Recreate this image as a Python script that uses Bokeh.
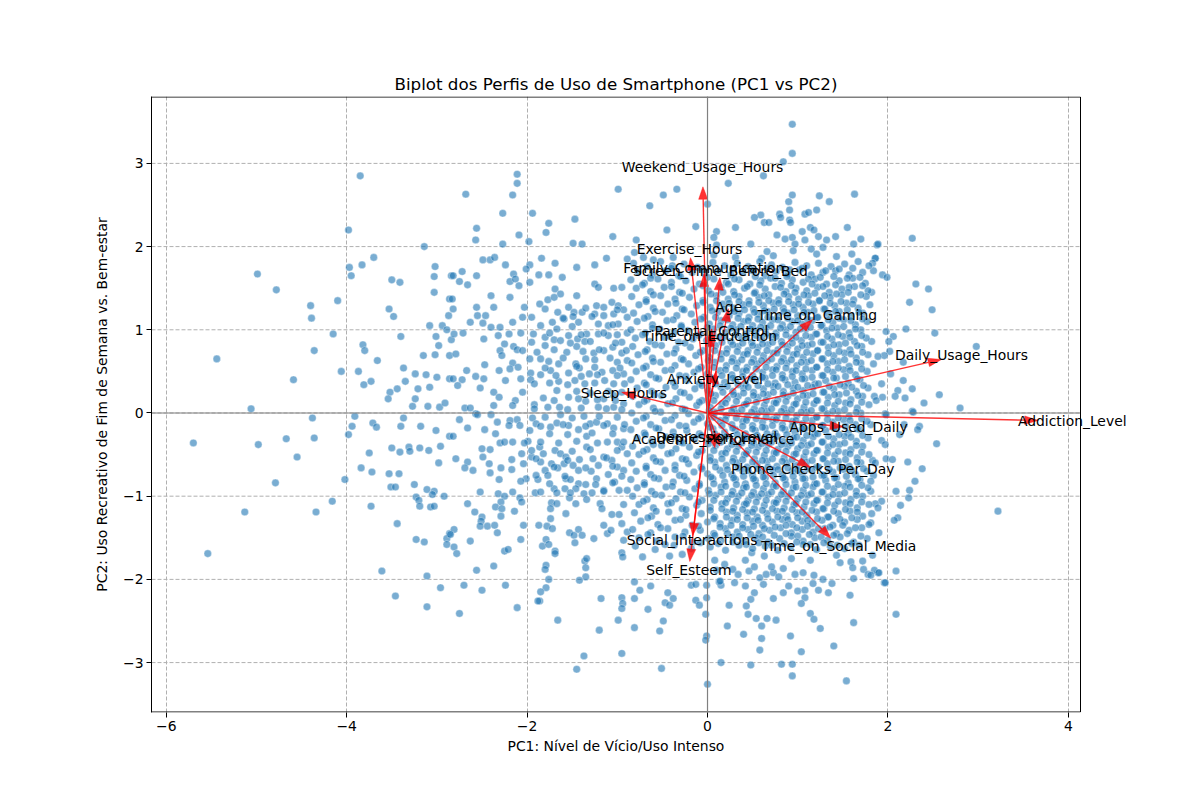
from bokeh.plotting import figure
from bokeh.models import Range1d, FixedTicker, Span, CustomJSTickFormatter, ColumnDataSource, Label, Title
from bokeh.embed import file_html
from bokeh.resources import INLINE

# ---------------- data (PC scores) ----------------
left_points = [
(-3.85,2.85),(-3.98,2.20),(-3.14,2.00),(-3.70,1.87),(-3.83,1.78),(-3.97,1.75),(-3.95,1.65),(-4.99,1.67),
(-4.78,1.48),(-3.02,1.76),(-3.03,1.64),(-3.50,1.60),(-3.41,1.57),(-3.03,1.45),(-4.40,1.29),(-4.10,1.35),
(-4.39,1.14),(-3.53,1.25),(-3.48,1.16),(-2.84,1.65),(-2.86,1.37),(-2.87,1.17),(-3.08,1.05),(-2.94,1.05),
(-2.89,1.00),(-4.15,0.95),(-3.40,0.92),(-3.01,0.92),(-2.84,0.88),(-3.82,0.82),(-3.80,0.75),(-2.98,0.81),
(-4.36,0.75),(-5.44,0.65),(-3.15,0.69),(-3.02,0.70),(-2.86,0.69),(-3.66,0.63),(-3.37,0.54),(-4.06,0.50),
(-3.87,0.50),(-3.24,0.47),(-3.12,0.46),(-3.00,0.43),(-2.86,0.41),(-4.59,0.40),(-3.81,0.34),(-3.73,0.38),
(-3.35,0.38),(-3.44,0.29),(-3.52,0.25),(-3.54,0.17),(-3.21,0.29),(-3.08,0.31),(-3.24,0.17),(-3.27,0.08),
(-3.10,0.08),(-2.97,0.07),(-2.91,0.12),(-5.06,0.05),(-4.38,-0.06),(-3.91,-0.04),(-3.37,-0.06),(-3.94,-0.16),
(-3.71,-0.12),(-3.67,-0.17),(-3.40,-0.16),(-3.18,-0.16),(-3.01,-0.21),
(-5.70,-0.36),(-4.98,-0.38),(-4.67,-0.31),(-4.36,-0.30),(-4.55,-0.53),(-3.98,-0.26),(-2.86,-0.28),(-3.75,-0.48),
(-3.50,-0.42),(-3.41,-0.47),(-3.31,-0.41),(-3.30,-0.46),(-3.19,-0.42),(-3.09,-0.45),(-2.96,-0.40),(-2.98,-0.60),
(-3.84,-0.66),(-3.72,-0.71),(-3.53,-0.73),(-3.42,-0.73),(-4.02,-0.80),(-4.79,-0.84),(-3.51,-0.89),(-3.46,-0.89),
(-3.25,-0.86),(-3.11,-0.92),(-3.03,-0.94),(-3.05,-0.98),(-2.92,-1.00),(-3.23,-1.01),(-3.20,-1.05),(-3.19,-1.12),
(-3.07,-1.13),(-3.03,-1.12),(-4.16,-1.06),(-5.13,-1.19),(-4.34,-1.19),(-3.73,-1.12),(-3.44,-1.33),(-3.23,-1.52),
(-3.14,-1.55),(-2.86,-1.45),(-2.89,-1.51),(-2.89,-1.58),(-5.54,-1.69),(-3.61,-1.90),(-3.11,-1.96),(-2.96,-2.10),
(-3.46,-2.20),(-3.11,-2.33),
]

midleft_upper = [
(-2.11,2.87),(-2.11,2.76),(-2.16,2.62),(-2.68,2.63),(-0.99,2.69),(-2.27,2.40),(-1.94,2.40),(-1.47,2.33),
(-1.76,2.28),(-1.79,2.17),(-2.56,2.22),(-2.57,2.08),(-2.09,2.14),(-1.98,2.06),(-1.05,2.12),(-2.27,2.03),
(-1.49,2.04),(-1.39,2.03),(-2.49,1.84),(-2.41,1.84),(-2.36,1.87),(-2.24,1.78),(-1.84,1.86),(-1.69,1.80),
(-1.97,1.78),(-2.01,1.73),(-1.45,1.75),(-1.25,1.78),(-1.12,1.86),(-0.89,1.85),(-2.82,1.65),(-2.72,1.70),
(-2.75,1.58),(-2.66,1.54),(-2.56,1.65),(-2.15,1.67),(-2.19,1.58),(-2.13,1.61),(-2.09,1.53),(-1.97,1.57),
(-1.87,1.66),(-1.76,1.66),(-1.61,1.63),(-1.69,1.49),(-1.63,1.43),(-1.45,1.41),(-1.25,1.55),(-1.21,1.51),
(-1.04,1.50),(-0.95,1.51),(-2.40,1.41),(-2.19,1.39),(-2.83,1.37),(-1.86,1.31),(-1.77,1.36),(-1.70,1.39),
(-2.03,1.27),(-2.37,1.27),(-2.56,1.27),(-2.82,1.25),(-1.66,1.21),(-1.54,1.27),(-1.48,1.21),(-1.23,1.29),
(-1.15,1.27),(-1.06,1.33),(-0.99,1.29),(-0.93,1.24),(-1.25,1.19),(-1.15,1.17),(-1.04,1.19),(-2.55,1.17),
(-2.46,1.17),(-2.63,1.09),(-2.49,1.08),(-2.40,1.03),(-2.30,1.03),(-2.16,1.09),(-2.05,1.15),(-1.72,1.09),
(-1.59,1.13),(-1.49,1.16),(-1.39,1.21),(-1.67,1.01),(-1.43,1.09),(-1.21,1.07),(-1.10,1.05),(-0.99,1.07),
(-0.89,1.15),(-2.81,0.95),(-2.71,0.96),(-2.48,0.89),(-2.32,0.93),(-2.07,0.96),(-1.93,0.95),(-1.80,0.91),
(-1.70,0.88),(-1.63,0.87),(-1.54,0.93),(-1.44,0.89),(-1.34,0.95),(-1.21,0.95),(-1.10,0.93),(-1.00,0.94),
(-0.89,0.96),(-2.79,0.71),(-2.25,0.83),(-2.15,0.80),(-2.11,0.76),(-2.30,0.75),(-2.28,0.69),(-1.89,0.73),
(-1.80,0.81),(-1.56,0.73),(-1.45,0.80),(-1.36,0.86),(-1.26,0.72),(-1.15,0.75),(-1.05,0.79),(-0.95,0.72),
(-1.97,0.65),(-2.16,0.60),(-1.76,0.62),(-1.65,0.59),(-1.46,0.59),(-1.35,0.65),(-1.00,0.61),(-0.89,0.63),
(-2.67,0.51),(-2.47,0.58),(-2.31,0.51),(-2.19,0.53),(-1.96,0.48),(-1.85,0.46),(-1.74,0.51),(-1.54,0.48),
(-1.42,0.54),(-1.31,0.47),(-1.17,0.49),(-1.05,0.51),(-0.93,0.47),(-2.82,0.41),(-2.72,0.40),(-2.57,0.44),
(-2.48,0.41),(-2.24,0.39),(-2.07,0.41),(-1.96,0.40),(-1.65,0.38),(-1.47,0.39),(-1.36,0.35),(-1.14,0.39),
(-1.04,0.35),(-2.77,0.33),(-2.52,0.30),(-2.37,0.25),(-2.31,0.19),(-2.13,0.15),(-1.92,0.10),(-1.82,0.18),
(-1.67,0.27),(-1.54,0.19),(-1.43,0.17),(-1.15,0.17),(-1.04,0.21),(-0.93,0.11),(-2.69,0.06),(-2.63,0.06),
(-2.37,0.09),(-2.16,0.09),(-1.77,0.07),(-1.64,0.07),(-1.21,0.07),(-1.04,0.07),(-2.57,-0.01),
]

midleft_lower = [
(-2.75,-0.08),(-2.66,-0.18),(-2.82,-0.28),(-2.55,-0.02),(-2.40,-0.02),(-2.47,-0.20),(-2.35,-0.25),(-2.33,-0.11),
(-2.19,-0.09),(-2.11,-0.08),(-2.08,-0.15),(-1.94,-0.06),(-1.90,-0.13),(-1.97,-0.21),(-1.99,-0.34),(-2.03,-0.36),
(-1.74,-0.17),(-1.67,-0.12),(-1.54,-0.15),(-1.43,-0.20),(-1.34,-0.28),(-1.30,-0.13),(-1.23,-0.11),(-1.11,-0.13),
(-1.04,-0.18),(-0.93,-0.19),(-1.37,-0.04),(-1.63,-0.02),(-2.50,-0.43),(-2.41,-0.44),(-2.30,-0.36),(-2.25,-0.35),
(-2.16,-0.35),(-2.06,-0.49),(-2.79,-0.55),(-2.66,-0.59),(-2.69,-0.66),(-2.60,-0.69),(-2.42,-0.61),(-2.41,-0.72),
(-2.49,-0.53),(-2.29,-0.66),(-2.17,-0.56),(-2.17,-0.68),(-2.31,-0.80),(-2.04,-0.61),(-1.95,-0.53),(-1.86,-0.41),
(-1.82,-0.49),(-1.85,-0.59),(-1.80,-0.69),(-1.77,-0.75),(-1.69,-0.45),(-1.63,-0.49),(-1.57,-0.53),(-1.66,-0.66),
(-1.73,-0.61),(-1.59,-0.61),(-1.55,-0.57),(-1.49,-0.63),(-1.43,-0.69),(-1.34,-0.41),(-1.27,-0.55),(-1.21,-0.63),
(-1.29,-0.70),(-1.15,-0.53),(-1.06,-0.57),(-1.00,-0.65),(-0.93,-0.69),(-0.89,-0.49),(-1.11,-0.35),(-1.00,-0.35),
(-0.95,-0.41),(-1.88,-0.80),(-2.01,-0.79),(-2.07,-0.82),(-1.57,-0.79),(-1.52,-0.80),(-1.43,-0.85),(-1.23,-0.79),
(-1.24,-0.86),(-1.03,-0.83),(-1.70,-0.91),(-1.67,-0.96),(-1.58,-0.91),(-1.46,-0.91),(-1.37,-0.97),(-1.28,-0.96),
(-1.15,-0.93),(-0.98,-0.93),(-0.89,-0.93),(-2.52,-0.95),(-2.32,-0.97),(-2.25,-1.00),(-2.16,-0.95),(-2.08,-1.02),
(-1.91,-0.96),(-2.66,-1.09),(-2.29,-1.07),(-2.35,-1.13),(-2.28,-1.15),(-2.06,-1.07),(-2.14,-1.18),(-1.73,-1.08),
(-1.74,-1.15),(-1.67,-1.09),(-1.53,-1.02),(-1.46,-1.09),(-1.34,-1.04),(-1.19,-1.09),(-1.17,-1.15),(-1.06,-1.22),
(-0.98,-1.22),(-0.93,-1.10),(-2.58,-1.19),(-2.50,-1.25),(-2.51,-1.30),(-2.52,-1.36),(-2.44,-1.36),(-2.36,-1.35),
(-2.29,-1.24),(-2.33,-1.44),(-2.04,-1.35),(-1.87,-1.35),(-1.78,-1.36),(-1.72,-1.39),(-1.74,-1.27),(-1.57,-1.21),
(-1.53,-1.44),(-1.48,-1.47),(-1.43,-1.40),(-1.39,-1.47),(-1.47,-1.56),(-1.26,-1.51),(-1.15,-1.35),(-1.11,-1.45),
(-1.07,-1.41),(-0.95,-1.33),(-0.89,-1.43),(-0.93,-1.53),(-2.81,-1.40),(-2.85,-1.46),(-2.81,-1.61),(-2.78,-1.69),
(-2.63,-1.54),(-2.07,-1.52),(-2.25,-1.66),(-2.21,-1.64),(-2.37,-1.84),(-2.56,-1.89),(-2.70,-2.07),(-2.50,-2.13),
(-2.24,-2.07),(-2.11,-2.34),(-2.75,-2.41),(-1.83,-1.60),(-1.79,-1.52),(-1.76,-1.58),(-1.69,-1.66),(-1.69,-1.69),
(-1.79,-1.83),(-1.80,-1.88),(-1.76,-2.00),(-1.79,-2.10),(-1.85,-2.15),(-1.86,-2.26),(-1.88,-2.26),(-1.66,-2.49),
(-1.36,-1.78),(-1.34,-1.75),(-1.35,-1.86),(-1.35,-1.97),(-1.42,-2.01),(-1.18,-2.23),(-1.20,-2.61),(-1.37,-2.92),
(-1.45,-3.08),(-0.95,-1.68),(-0.94,-1.73),(-0.95,-2.22),(-0.94,-2.29),(-0.95,-2.35),(-0.99,-2.49),(-0.95,-2.89),
]

midleft_extra = [
(-1.80,1.25),(-1.35,1.26),(-1.00,1.24),(-1.95,1.15),(-1.60,1.14),(-1.28,1.16),(-1.85,1.05),(-1.50,1.04),(-1.05,1.06),
(-2.20,0.95),(-1.75,0.96),(-1.40,0.94),(-1.15,0.96),(-0.95,0.85),(-1.95,0.85),(-1.52,0.84),(-1.30,0.86),(-1.02,0.84),
(-2.05,0.75),(-1.70,0.76),(-1.38,0.74),(-1.20,0.76),(-0.90,0.75),(-1.85,0.65),(-1.60,0.66),(-1.25,0.64),(-1.08,0.66),
(-2.10,0.55),(-1.80,0.54),(-1.45,0.56),(-1.25,0.55),(-0.97,0.54),(-1.68,0.45),(-1.40,0.44),(-1.22,0.46),(-1.00,0.45),
(-1.92,0.35),(-1.75,0.36),(-1.55,0.34),(-1.25,0.36),(-0.92,0.35),(-2.05,0.25),(-1.45,0.26),(-1.30,0.24),(-1.10,0.26),
(-0.95,0.25),(-1.70,0.15),(-1.35,0.14),(-1.22,0.16),(-1.02,0.15),(-1.92,0.05),(-1.55,0.04),(-1.40,0.06),(-1.12,0.05),
(-0.95,0.04),(-1.80,-0.05),(-1.50,-0.06),(-1.20,-0.04),(-1.00,-0.05),(-2.20,-0.15),(-1.85,-0.16),(-1.60,-0.14),
(-1.35,-0.16),(-1.15,-0.15),(-0.92,-0.14),(-1.75,-0.25),(-1.55,-0.26),(-1.28,-0.24),(-1.05,-0.25),(-1.85,-0.35),
(-1.65,-0.36),(-1.45,-0.34),(-1.22,-0.36),(-0.93,-0.35),(-1.95,-0.45),(-1.50,-0.46),(-1.30,-0.44),(-1.00,-0.45),
(-1.90,-0.55),(-1.42,-0.56),(-1.12,-0.54),(-1.70,-0.65),(-1.35,-0.66),(-1.05,-0.64),(-1.90,-0.75),(-1.58,-0.76),
(-1.10,-0.74),(-0.95,-0.76),(-1.75,-0.85),(-1.35,-0.86),(-1.05,-0.84),(-1.85,-0.95),(-1.52,-0.96),(-1.15,-0.94),
]

top_points = [
(0.94,3.47),(0.94,3.12),(0.84,3.02),(0.62,2.85),(0.23,2.76),(-0.34,2.69),(-0.49,2.62),(-0.64,2.49),
(0.00,2.51),(0.94,2.62),(1.24,2.61),(1.63,2.63),(1.35,2.54),(0.90,2.54),(0.91,2.44),(0.80,2.39),
(0.81,2.35),(0.91,2.32),(0.92,2.29),(0.59,2.38),(0.52,2.35),(0.63,2.29),(0.68,2.29),(1.08,2.39),
(1.12,2.41),(1.21,2.44),(-0.45,2.20),(-0.13,2.24),(0.10,2.18),(0.31,2.23),(0.07,2.11),(-0.79,2.08),
(1.05,2.18),(1.14,2.23),(1.18,2.20),(1.55,2.23),(0.77,2.14),(0.86,2.09),(0.94,2.11),(1.23,2.12),
(1.32,2.08),(1.42,2.12),(1.70,2.09),(0.48,2.03),(1.08,2.08),(0.97,2.03),(1.62,2.03),(1.88,2.02),
(0.10,2.02),(-0.81,1.93),(-0.71,1.87),(-0.60,1.84),(-0.38,1.87),(0.07,1.90),(0.31,1.87),(0.66,1.94),
(0.73,1.89),(0.95,1.95),(1.15,1.97),(1.21,1.91),(1.28,1.99),(1.43,1.88),(1.60,1.91),(1.86,1.86),
(0.60,1.86),
]

bottom_points = [
(-0.81,-2.03),(-0.75,-2.13),(-0.63,-2.08),(-0.81,-2.23),(-0.66,-2.36),(-0.44,-2.16),(-0.47,-2.28),(-0.42,-2.31),
(-0.38,-2.23),(-0.49,-2.50),(-0.53,-2.62),(-0.81,-2.58),(-0.51,-3.07),(-0.18,-2.07),(-0.13,-2.06),(-0.01,-2.07),
(-0.13,-2.25),(-0.09,-2.31),(-0.01,-2.22),(-0.02,-2.42),(-0.01,-2.68),(-0.02,-2.73),(0.00,-3.26),(0.15,-2.07),
(0.13,-2.03),(0.30,-2.04),(0.24,-2.31),(0.22,-2.56),(0.15,-3.00),(0.42,-2.08),(0.52,-2.16),(0.48,-2.24),
(0.43,-2.32),(0.45,-2.42),(0.54,-2.47),(0.60,-2.56),(0.66,-2.47),(0.76,-2.49),(0.40,-2.66),(0.60,-2.71),
(0.58,-2.85),(0.48,-3.03),(0.73,-2.23),(0.62,-2.06),(0.84,-2.16),(0.90,-2.08),(1.00,-2.14),(1.08,-2.13),
(1.08,-2.22),(1.04,-2.29),(1.14,-2.41),(1.18,-2.48),(1.25,-2.59),(0.92,-2.68),(1.04,-2.87),(0.82,-3.02),
(0.94,-3.02),(0.94,-3.16),(1.23,-2.13),(1.34,-2.16),(1.38,-2.05),(1.17,-2.05),(1.58,-2.19),(1.62,-2.52),
(1.40,-2.80),(1.54,-3.22),(1.62,-1.99),(1.96,-2.04),(-0.72,-1.73),(-0.42,-1.72),(-0.28,-1.70),(0.08,-1.77),
(0.19,-1.82),(0.28,-1.88),(0.34,-1.94),(0.46,-1.90),(0.52,-1.85),(0.58,-1.98),(0.65,-1.94),(0.73,-1.92),
(0.79,-1.97),(0.84,-1.87),(0.97,-1.94),(1.06,-1.92),(1.18,-1.95),(1.28,-2.00),(1.47,-1.80),(1.59,-1.79),
(1.61,-1.86),(1.73,-1.88),(1.78,-1.94),(1.89,-1.92),(1.72,-1.78),(1.43,-1.71),(1.14,-1.77),(0.93,-1.75),
(0.42,-1.77),(0.49,-1.68),(0.63,-1.72),(0.71,-1.85),(0.10,-1.89),(0.14,-2.02),
]

right_points = [
(2.27,2.10),(1.89,2.03),(1.86,1.86),(1.83,1.80),(1.84,1.71),(1.94,1.66),(1.99,1.63),(2.31,1.55),
(2.45,1.49),(2.24,1.33),(2.49,1.24),(1.82,1.45),(2.20,1.01),(2.52,0.96),(1.98,0.98),(2.06,0.92),
(2.01,0.86),(1.82,0.86),(2.98,0.80),(2.02,0.74),(1.96,0.69),(1.89,0.68),(2.17,0.61),(1.84,0.59),
(2.03,0.47),(1.93,0.35),(2.17,0.39),(2.27,0.29),(2.11,0.27),(2.08,0.20),(2.19,0.18),(1.94,0.19),
(1.85,0.20),(1.87,0.15),(2.57,0.22),(2.40,0.12),(2.80,0.06),(2.27,0.02),(1.97,-0.01),
(1.98,-0.02),(2.28,0.01),(1.81,-0.14),(2.18,-0.14),(2.35,-0.16),(2.33,-0.20),(2.13,-0.26),(1.93,-0.33),
(1.97,-0.38),(2.54,-0.37),(1.98,-0.55),(2.05,-0.56),(1.83,-0.57),(1.86,-0.60),(2.22,-0.59),(2.38,-0.67),
(1.84,-0.75),(1.81,-0.82),(2.30,-0.82),(2.24,-0.93),(2.09,-0.94),(1.81,-0.94),(2.23,-1.02),(1.93,-1.06),
(1.86,-1.09),(1.89,-1.14),(2.14,-1.11),(1.82,-1.21),(3.22,-1.18),(2.11,-1.26),(2.07,-1.29),(1.90,-1.44),
(1.81,-1.32),(1.83,-1.71),(1.85,-1.89),(1.90,-1.92),(2.09,-1.90),(1.81,-1.95),(1.97,-2.04),(2.09,-2.42),
]

core_upper = [
(-0.82,1.80),(-0.67,1.76),(-0.52,1.82),(-0.39,1.77),(-0.26,1.79),(-0.11,1.75),(0.06,1.81),(0.19,1.77),(0.33,1.80),(0.45,1.76),(0.58,1.82),(0.71,1.78),(0.83,1.75),(0.97,1.81),(1.10,1.77),(1.23,1.80),(1.37,1.76),(1.52,1.79),(1.67,1.82),(1.79,1.77),
(-0.77,1.70),(-0.61,1.66),(-0.46,1.71),(-0.32,1.65),(-0.17,1.69),(-0.03,1.67),(0.12,1.71),(0.26,1.66),(0.39,1.69),(0.51,1.72),(0.64,1.65),(0.76,1.70),(0.89,1.67),(1.02,1.72),(1.15,1.66),(1.28,1.69),(1.42,1.71),(1.57,1.66),(1.72,1.69),
(-0.85,1.60),(-0.70,1.56),(-0.55,1.61),(-0.40,1.57),(-0.24,1.59),(-0.09,1.55),(0.07,1.61),(0.21,1.57),(0.35,1.60),(0.47,1.55),(0.59,1.59),(0.70,1.62),(0.82,1.56),(0.94,1.60),(1.06,1.57),(1.19,1.61),(1.32,1.55),(1.46,1.59),(1.61,1.62),(1.75,1.56),
(-0.79,1.50),(-0.63,1.46),(-0.48,1.51),(-0.31,1.45),(-0.15,1.49),(0.01,1.47),(0.15,1.51),(0.29,1.46),(0.41,1.50),(0.53,1.45),(0.64,1.49),(0.75,1.52),(0.87,1.46),(0.98,1.50),(1.10,1.47),(1.22,1.51),(1.35,1.45),(1.49,1.49),(1.63,1.52),(1.78,1.47),
(-0.84,1.40),(-0.68,1.36),(-0.52,1.41),(-0.36,1.37),(-0.20,1.39),(-0.05,1.35),(0.10,1.41),(0.23,1.37),(0.35,1.40),(0.46,1.35),(0.57,1.39),(0.68,1.42),(0.79,1.36),(0.90,1.40),(1.01,1.37),(1.12,1.41),(1.24,1.35),(1.36,1.39),(1.49,1.42),(1.62,1.36),(1.76,1.40),
(-0.76,1.30),(-0.60,1.26),(-0.44,1.31),(-0.28,1.25),(-0.12,1.29),(0.03,1.27),(0.17,1.31),(0.29,1.26),(0.40,1.30),(0.51,1.25),(0.62,1.29),(0.73,1.32),(0.84,1.26),(0.95,1.30),(1.06,1.27),(1.17,1.31),(1.29,1.25),(1.41,1.29),(1.54,1.32),(1.67,1.26),(1.80,1.30),
(-0.82,1.20),(-0.66,1.16),(-0.50,1.21),(-0.34,1.17),(-0.18,1.19),(-0.04,1.15),(0.11,1.21),(0.24,1.17),(0.35,1.20),(0.46,1.15),(0.56,1.19),(0.67,1.22),(0.78,1.16),(0.89,1.20),(1.00,1.17),(1.11,1.21),(1.22,1.15),(1.34,1.19),(1.46,1.22),(1.59,1.16),(1.72,1.20),
(-0.78,1.10),(-0.61,1.06),(-0.45,1.11),(-0.29,1.05),(-0.14,1.09),(0.02,1.07),(0.15,1.11),(0.28,1.06),(0.40,1.10),(0.50,1.05),(0.61,1.09),(0.72,1.12),(0.83,1.06),(0.94,1.10),(1.05,1.07),(1.16,1.11),(1.27,1.05),(1.39,1.09),(1.51,1.12),(1.64,1.06),(1.77,1.10),
(-0.85,1.00),(-0.69,0.96),(-0.53,1.01),(-0.37,0.97),(-0.22,0.99),(-0.08,0.95),(0.07,1.01),(0.20,0.97),(0.32,1.00),(0.43,0.95),(0.54,0.99),(0.65,1.02),(0.76,0.96),(0.87,1.00),(0.98,0.97),(1.09,1.01),(1.20,0.95),(1.32,0.99),(1.44,1.02),(1.57,0.96),(1.70,1.00),
(-0.80,0.90),(-0.64,0.86),(-0.48,0.91),(-0.32,0.85),(-0.16,0.89),(-0.01,0.87),(0.13,0.91),(0.26,0.86),(0.38,0.90),(0.49,0.85),(0.60,0.89),(0.71,0.92),(0.82,0.86),(0.93,0.90),(1.04,0.87),(1.15,0.91),(1.26,0.85),(1.38,0.89),(1.50,0.92),(1.63,0.86),(1.76,0.90),
(-0.83,0.80),(-0.67,0.76),(-0.51,0.81),(-0.35,0.77),(-0.19,0.79),(-0.05,0.75),(0.09,0.81),(0.22,0.77),(0.34,0.80),(0.45,0.75),(0.56,0.79),(0.67,0.82),(0.78,0.76),(0.89,0.80),(1.00,0.77),(1.11,0.81),(1.22,0.75),(1.34,0.79),(1.46,0.82),(1.58,0.76),(1.71,0.80),
(-0.77,0.70),(-0.61,0.66),(-0.45,0.71),(-0.29,0.65),(-0.13,0.69),(0.02,0.67),(0.15,0.71),(0.28,0.66),(0.40,0.70),(0.51,0.65),(0.62,0.69),(0.73,0.72),(0.84,0.66),(0.95,0.70),(1.06,0.67),(1.17,0.71),(1.28,0.65),(1.40,0.69),(1.52,0.72),(1.65,0.66),(1.78,0.70),
(-0.84,0.60),(-0.68,0.56),(-0.52,0.61),(-0.36,0.57),(-0.21,0.59),(-0.07,0.55),(0.08,0.61),(0.21,0.57),(0.33,0.60),(0.44,0.55),(0.55,0.59),(0.66,0.62),(0.77,0.56),(0.88,0.60),(0.99,0.57),(1.10,0.61),(1.21,0.55),(1.33,0.59),(1.45,0.62),(1.57,0.56),(1.70,0.60),
(-0.79,0.50),(-0.63,0.46),(-0.47,0.51),(-0.31,0.45),(-0.15,0.49),(0.00,0.47),(0.14,0.51),(0.27,0.46),(0.39,0.50),(0.50,0.45),(0.61,0.49),(0.72,0.52),(0.83,0.46),(0.94,0.50),(1.05,0.47),(1.16,0.51),(1.27,0.45),(1.39,0.49),(1.51,0.52),(1.64,0.46),(1.77,0.50),
(-0.85,0.40),(-0.70,0.36),(-0.54,0.41),(-0.38,0.37),(-0.23,0.39),(-0.09,0.35),(0.06,0.41),(0.19,0.37),(0.31,0.40),(0.42,0.35),(0.53,0.39),(0.64,0.42),(0.75,0.36),(0.86,0.40),(0.97,0.37),(1.08,0.41),(1.19,0.35),(1.31,0.39),(1.43,0.42),(1.56,0.36),(1.69,0.40),
(-0.78,0.30),(-0.62,0.26),(-0.46,0.31),(-0.30,0.25),(-0.14,0.29),(0.01,0.27),(0.15,0.31),(0.28,0.26),(0.40,0.30),(0.51,0.25),(0.62,0.29),(0.73,0.32),(0.84,0.26),(0.95,0.30),(1.06,0.27),(1.17,0.31),(1.28,0.25),(1.40,0.29),(1.52,0.32),(1.65,0.26),(1.78,0.30),
(-0.83,0.20),(-0.67,0.16),(-0.51,0.21),(-0.35,0.17),(-0.20,0.19),(-0.06,0.15),(0.09,0.21),(0.22,0.17),(0.34,0.20),(0.45,0.15),(0.56,0.19),(0.67,0.22),(0.78,0.16),(0.89,0.20),(1.00,0.17),(1.11,0.21),(1.22,0.15),(1.34,0.19),(1.46,0.22),(1.59,0.16),(1.72,0.20),
(-0.76,0.10),(-0.60,0.06),(-0.44,0.11),(-0.28,0.05),(-0.12,0.09),(0.03,0.07),(0.16,0.11),(0.29,0.06),(0.41,0.10),(0.52,0.05),(0.63,0.09),(0.74,0.12),(0.85,0.06),(0.96,0.10),(1.07,0.07),(1.18,0.11),(1.29,0.05),(1.41,0.09),(1.53,0.12),(1.66,0.06),(1.79,0.10),
]

core_lower = [
(-0.84,0.00),(-0.68,-0.04),(-0.52,0.01),(-0.36,-0.03),(-0.21,-0.01),(-0.07,-0.05),(0.08,0.01),(0.21,-0.03),(0.33,0.00),(0.44,-0.05),(0.55,-0.01),(0.66,0.02),(0.77,-0.04),(0.88,0.00),(0.99,-0.03),(1.10,0.01),(1.21,-0.05),(1.33,-0.01),(1.45,0.02),(1.57,-0.04),(1.70,0.00),
(-0.79,-0.10),(-0.63,-0.14),(-0.47,-0.09),(-0.31,-0.15),(-0.15,-0.11),(0.00,-0.13),(0.14,-0.09),(0.27,-0.14),(0.39,-0.10),(0.50,-0.15),(0.61,-0.11),(0.72,-0.08),(0.83,-0.14),(0.94,-0.10),(1.05,-0.13),(1.16,-0.09),(1.27,-0.15),(1.39,-0.11),(1.51,-0.08),(1.64,-0.14),(1.77,-0.10),
(-0.85,-0.20),(-0.70,-0.24),(-0.54,-0.19),(-0.38,-0.23),(-0.23,-0.21),(-0.09,-0.25),(0.06,-0.19),(0.19,-0.23),(0.31,-0.20),(0.42,-0.25),(0.53,-0.21),(0.64,-0.18),(0.75,-0.24),(0.86,-0.20),(0.97,-0.23),(1.08,-0.19),(1.19,-0.25),(1.31,-0.21),(1.43,-0.18),(1.56,-0.24),(1.69,-0.20),
(-0.78,-0.30),(-0.62,-0.34),(-0.46,-0.29),(-0.30,-0.35),(-0.14,-0.31),(0.01,-0.33),(0.15,-0.29),(0.28,-0.34),(0.40,-0.30),(0.51,-0.35),(0.62,-0.31),(0.73,-0.28),(0.84,-0.34),(0.95,-0.30),(1.06,-0.33),(1.17,-0.29),(1.28,-0.35),(1.40,-0.31),(1.52,-0.28),(1.65,-0.34),(1.78,-0.30),
(-0.83,-0.40),(-0.67,-0.44),(-0.51,-0.39),(-0.35,-0.43),(-0.20,-0.41),(-0.06,-0.45),(0.09,-0.39),(0.22,-0.43),(0.34,-0.40),(0.45,-0.45),(0.56,-0.41),(0.67,-0.38),(0.78,-0.44),(0.89,-0.40),(1.00,-0.43),(1.11,-0.39),(1.22,-0.45),(1.34,-0.41),(1.46,-0.38),(1.59,-0.44),(1.72,-0.40),
(-0.76,-0.50),(-0.60,-0.54),(-0.44,-0.49),(-0.28,-0.55),(-0.12,-0.51),(0.03,-0.53),(0.16,-0.49),(0.29,-0.54),(0.41,-0.50),(0.52,-0.55),(0.63,-0.51),(0.74,-0.48),(0.85,-0.54),(0.96,-0.50),(1.07,-0.53),(1.18,-0.49),(1.29,-0.55),(1.41,-0.51),(1.53,-0.48),(1.66,-0.54),(1.79,-0.50),
(-0.84,-0.60),(-0.68,-0.64),(-0.52,-0.59),(-0.36,-0.63),(-0.21,-0.61),(-0.07,-0.65),(0.08,-0.59),(0.21,-0.63),(0.33,-0.60),(0.44,-0.65),(0.55,-0.61),(0.66,-0.58),(0.77,-0.64),(0.88,-0.60),(0.99,-0.63),(1.10,-0.59),(1.21,-0.65),(1.33,-0.61),(1.45,-0.58),(1.57,-0.64),(1.70,-0.60),
(-0.79,-0.70),(-0.63,-0.74),(-0.47,-0.69),(-0.31,-0.75),(-0.15,-0.71),(0.00,-0.73),(0.14,-0.69),(0.27,-0.74),(0.39,-0.70),(0.50,-0.75),(0.61,-0.71),(0.72,-0.68),(0.83,-0.74),(0.94,-0.70),(1.05,-0.73),(1.16,-0.69),(1.27,-0.75),(1.39,-0.71),(1.51,-0.68),(1.64,-0.74),(1.77,-0.70),
(-0.85,-0.80),(-0.70,-0.84),(-0.54,-0.79),(-0.38,-0.83),(-0.23,-0.81),(-0.09,-0.85),(0.06,-0.79),(0.19,-0.83),(0.31,-0.80),(0.42,-0.85),(0.53,-0.81),(0.64,-0.78),(0.75,-0.84),(0.86,-0.80),(0.97,-0.83),(1.08,-0.79),(1.19,-0.85),(1.31,-0.81),(1.43,-0.78),(1.56,-0.84),(1.69,-0.80),
(-0.78,-0.90),(-0.62,-0.94),(-0.46,-0.89),(-0.30,-0.95),(-0.14,-0.91),(0.01,-0.93),(0.15,-0.89),(0.28,-0.94),(0.40,-0.90),(0.51,-0.95),(0.62,-0.91),(0.73,-0.88),(0.84,-0.94),(0.95,-0.90),(1.06,-0.93),(1.17,-0.89),(1.28,-0.95),(1.40,-0.91),(1.52,-0.88),(1.65,-0.94),(1.78,-0.90),
(-0.83,-1.00),(-0.67,-1.04),(-0.51,-0.99),(-0.35,-1.03),(-0.20,-1.01),(-0.06,-1.05),(0.09,-0.99),(0.22,-1.03),(0.34,-1.00),(0.45,-1.05),(0.56,-1.01),(0.67,-0.98),(0.78,-1.04),(0.89,-1.00),(1.00,-1.03),(1.11,-0.99),(1.22,-1.05),(1.34,-1.01),(1.46,-0.98),(1.59,-1.04),(1.72,-1.00),
(-0.76,-1.10),(-0.60,-1.14),(-0.44,-1.09),(-0.28,-1.15),(-0.12,-1.11),(0.03,-1.13),(0.16,-1.09),(0.29,-1.14),(0.41,-1.10),(0.52,-1.15),(0.63,-1.11),(0.74,-1.08),(0.85,-1.14),(0.96,-1.10),(1.07,-1.13),(1.18,-1.09),(1.29,-1.15),(1.41,-1.11),(1.53,-1.08),(1.66,-1.14),(1.79,-1.10),
(-0.81,-1.20),(-0.62,-1.24),(-0.43,-1.19),(-0.24,-1.23),(-0.07,-1.21),(0.08,-1.25),(0.21,-1.19),(0.33,-1.23),(0.44,-1.20),(0.55,-1.25),(0.66,-1.21),(0.77,-1.18),(0.88,-1.24),(0.99,-1.20),(1.10,-1.23),(1.21,-1.19),(1.33,-1.25),(1.45,-1.21),(1.58,-1.18),(1.72,-1.24),
(-0.74,-1.30),(-0.55,-1.34),(-0.36,-1.29),(-0.17,-1.35),(0.00,-1.31),(0.14,-1.33),(0.27,-1.29),(0.39,-1.34),(0.50,-1.30),(0.61,-1.35),(0.72,-1.31),(0.83,-1.28),(0.94,-1.34),(1.05,-1.30),(1.16,-1.33),(1.27,-1.29),(1.39,-1.35),(1.52,-1.31),(1.66,-1.28),(1.79,-1.34),
(-0.83,-1.40),(-0.63,-1.44),(-0.44,-1.39),(-0.25,-1.43),(-0.08,-1.41),(0.07,-1.45),(0.20,-1.39),(0.33,-1.43),(0.45,-1.40),(0.57,-1.45),(0.69,-1.41),(0.81,-1.38),(0.93,-1.44),(1.05,-1.40),(1.17,-1.43),(1.30,-1.39),(1.43,-1.45),(1.57,-1.41),(1.71,-1.38),
(-0.76,-1.50),(-0.56,-1.54),(-0.36,-1.49),(-0.16,-1.55),(0.01,-1.51),(0.15,-1.53),(0.28,-1.49),(0.41,-1.54),(0.54,-1.50),(0.67,-1.55),(0.80,-1.51),(0.93,-1.48),(1.06,-1.54),(1.19,-1.50),(1.33,-1.53),(1.47,-1.49),(1.62,-1.55),(1.77,-1.51),
(-0.80,-1.60),(-0.58,-1.64),(-0.37,-1.59),(-0.18,-1.63),(0.03,-1.61),(0.20,-1.65),(0.35,-1.59),(0.50,-1.63),(0.64,-1.60),(0.78,-1.65),(0.92,-1.61),(1.06,-1.58),(1.21,-1.64),(1.36,-1.60),(1.52,-1.63),(1.68,-1.59),
]

core_fill_upper = [
(-0.40,1.74),(-0.05,1.72),(0.28,1.73),(0.50,1.71),(0.66,1.74),(0.91,1.72),(1.05,1.74),(1.31,1.71),(1.46,1.73),(1.61,1.74),
(-0.63,1.62),(-0.30,1.64),(0.00,1.63),(0.30,1.61),(0.53,1.64),(0.75,1.62),(0.88,1.64),(1.12,1.61),(1.25,1.63),(1.40,1.64),(1.55,1.62),(1.69,1.63),
(-0.72,1.54),(-0.40,1.52),(-0.05,1.53),(0.23,1.55),(0.44,1.52),(0.58,1.54),(0.81,1.51),(0.93,1.53),(1.16,1.55),(1.28,1.52),(1.42,1.54),(1.57,1.51),(1.72,1.53),
(-0.60,1.42),(-0.28,1.44),(0.04,1.43),(0.17,1.45),(0.30,1.42),(0.52,1.44),(0.63,1.41),(0.85,1.43),(0.97,1.45),(1.07,1.42),(1.19,1.44),(1.30,1.41),(1.43,1.43),(1.56,1.45),(1.70,1.42),
(-0.68,1.34),(-0.35,1.32),(-0.05,1.33),(0.10,1.35),(0.24,1.32),(0.35,1.34),(0.46,1.31),(0.57,1.33),(0.68,1.35),(0.79,1.32),(0.90,1.34),(1.01,1.31),(1.12,1.33),(1.24,1.35),(1.36,1.32),(1.48,1.34),(1.61,1.31),
(-0.58,1.22),(-0.26,1.24),(0.05,1.23),(0.18,1.25),(0.30,1.22),(0.41,1.24),(0.52,1.21),(0.63,1.23),(0.74,1.25),(0.85,1.22),(0.96,1.24),(1.07,1.21),(1.18,1.23),(1.30,1.25),(1.42,1.22),(1.55,1.24),(1.68,1.21),
(-0.70,1.14),(-0.38,1.12),(-0.07,1.13),(0.09,1.15),(0.22,1.12),(0.34,1.14),(0.45,1.11),(0.56,1.13),(0.67,1.15),(0.78,1.12),(0.89,1.14),(1.00,1.11),(1.11,1.13),(1.22,1.15),(1.34,1.12),(1.46,1.14),(1.59,1.11),(1.72,1.13),
(-0.61,1.02),(-0.29,1.04),(0.00,1.03),(0.14,1.05),(0.26,1.02),(0.37,1.04),(0.48,1.01),(0.59,1.03),(0.70,1.05),(0.81,1.02),(0.92,1.04),(1.03,1.01),(1.14,1.03),(1.26,1.05),(1.38,1.02),(1.51,1.04),(1.64,1.01),
(-0.72,0.94),(-0.42,0.92),(-0.10,0.93),(0.06,0.95),(0.19,0.92),(0.31,0.94),(0.43,0.91),(0.54,0.93),(0.65,0.95),(0.76,0.92),(0.87,0.94),(0.98,0.91),(1.09,0.93),(1.21,0.95),(1.33,0.92),(1.45,0.94),(1.58,0.91),(1.71,0.93),
(-0.58,0.82),(-0.25,0.84),(0.03,0.83),(0.16,0.85),(0.28,0.82),(0.39,0.84),(0.50,0.81),(0.61,0.83),(0.72,0.85),(0.83,0.82),(0.94,0.84),(1.05,0.81),(1.16,0.83),(1.28,0.85),(1.40,0.82),(1.53,0.84),(1.66,0.81),
(-0.69,0.74),(-0.37,0.72),(-0.08,0.73),(0.08,0.75),(0.21,0.72),(0.33,0.74),(0.44,0.71),(0.55,0.73),(0.66,0.75),(0.77,0.72),(0.88,0.74),(0.99,0.71),(1.10,0.73),(1.22,0.75),(1.34,0.72),(1.46,0.74),(1.59,0.71),(1.72,0.73),
(-0.60,0.62),(-0.27,0.64),(0.01,0.63),(0.15,0.65),(0.27,0.62),(0.38,0.64),(0.49,0.61),(0.60,0.63),(0.71,0.65),(0.82,0.62),(0.93,0.64),(1.04,0.61),(1.15,0.63),(1.27,0.65),(1.39,0.62),(1.52,0.64),(1.65,0.61),
(-0.71,0.54),(-0.40,0.52),(-0.10,0.53),(0.07,0.55),(0.20,0.52),(0.32,0.54),(0.43,0.51),(0.54,0.53),(0.65,0.55),(0.76,0.52),(0.87,0.54),(0.98,0.51),(1.09,0.53),(1.21,0.55),(1.33,0.52),(1.45,0.54),(1.58,0.51),(1.71,0.53),
(-0.57,0.42),(-0.24,0.44),(0.03,0.43),(0.16,0.45),(0.28,0.42),(0.39,0.44),(0.50,0.41),(0.61,0.43),(0.72,0.45),(0.83,0.42),(0.94,0.44),(1.05,0.41),(1.16,0.43),(1.28,0.45),(1.40,0.42),(1.53,0.44),(1.66,0.41),
(-0.68,0.34),(-0.36,0.32),(-0.06,0.33),(0.09,0.35),(0.22,0.32),(0.34,0.34),(0.45,0.31),(0.56,0.33),(0.67,0.35),(0.78,0.32),(0.89,0.34),(1.00,0.31),(1.11,0.33),(1.23,0.35),(1.35,0.32),(1.47,0.34),(1.60,0.31),(1.73,0.33),
(-0.59,0.22),(-0.26,0.24),(0.04,0.23),(0.17,0.25),(0.29,0.22),(0.40,0.24),(0.51,0.21),(0.62,0.23),(0.73,0.25),(0.84,0.22),(0.95,0.24),(1.06,0.21),(1.17,0.23),(1.29,0.25),(1.41,0.22),(1.54,0.24),(1.67,0.21),
(-0.70,0.14),(-0.39,0.12),(-0.09,0.13),(0.07,0.15),(0.20,0.12),(0.32,0.14),(0.43,0.11),(0.54,0.13),(0.65,0.15),(0.76,0.12),(0.87,0.14),(0.98,0.11),(1.09,0.13),(1.21,0.15),(1.33,0.12),(1.45,0.14),(1.58,0.11),(1.71,0.13),
(-0.58,0.02),(-0.25,0.04),(0.02,0.03),(0.15,0.05),(0.27,0.02),(0.38,0.04),(0.49,0.01),(0.60,0.03),(0.71,0.05),(0.82,0.02),(0.93,0.04),(1.04,0.01),(1.15,0.03),(1.27,0.05),(1.39,0.02),(1.52,0.04),(1.65,0.01),
]

core_fill_lower = [
(-0.71,-0.06),(-0.40,-0.08),(-0.10,-0.07),(0.07,-0.05),(0.20,-0.08),(0.32,-0.06),(0.43,-0.09),(0.54,-0.07),(0.65,-0.05),(0.76,-0.08),(0.87,-0.06),(0.98,-0.09),(1.09,-0.07),(1.21,-0.05),(1.33,-0.08),(1.45,-0.06),(1.58,-0.09),(1.71,-0.07),
(-0.57,-0.18),(-0.24,-0.16),(0.03,-0.17),(0.16,-0.15),(0.28,-0.18),(0.39,-0.16),(0.50,-0.19),(0.61,-0.17),(0.72,-0.15),(0.83,-0.18),(0.94,-0.16),(1.05,-0.19),(1.16,-0.17),(1.28,-0.15),(1.40,-0.18),(1.53,-0.16),(1.66,-0.19),
(-0.69,-0.26),(-0.37,-0.28),(-0.07,-0.27),(0.08,-0.25),(0.21,-0.28),(0.33,-0.26),(0.44,-0.29),(0.55,-0.27),(0.66,-0.25),(0.77,-0.28),(0.88,-0.26),(0.99,-0.29),(1.10,-0.27),(1.22,-0.25),(1.34,-0.28),(1.46,-0.26),(1.59,-0.29),(1.72,-0.27),
(-0.60,-0.38),(-0.27,-0.36),(0.01,-0.37),(0.15,-0.35),(0.27,-0.38),(0.38,-0.36),(0.49,-0.39),(0.60,-0.37),(0.71,-0.35),(0.82,-0.38),(0.93,-0.36),(1.04,-0.39),(1.15,-0.37),(1.27,-0.35),(1.39,-0.38),(1.52,-0.36),(1.65,-0.39),
(-0.71,-0.46),(-0.40,-0.48),(-0.10,-0.47),(0.07,-0.45),(0.20,-0.48),(0.32,-0.46),(0.43,-0.49),(0.54,-0.47),(0.65,-0.45),(0.76,-0.48),(0.87,-0.46),(0.98,-0.49),(1.09,-0.47),(1.21,-0.45),(1.33,-0.48),(1.45,-0.46),(1.58,-0.49),(1.71,-0.47),
(-0.57,-0.58),(-0.24,-0.56),(0.03,-0.57),(0.16,-0.55),(0.28,-0.58),(0.39,-0.56),(0.50,-0.59),(0.61,-0.57),(0.72,-0.55),(0.83,-0.58),(0.94,-0.56),(1.05,-0.59),(1.16,-0.57),(1.28,-0.55),(1.40,-0.58),(1.53,-0.56),(1.66,-0.59),
(-0.68,-0.66),(-0.36,-0.68),(-0.06,-0.67),(0.09,-0.65),(0.22,-0.68),(0.34,-0.66),(0.45,-0.69),(0.56,-0.67),(0.67,-0.65),(0.78,-0.68),(0.89,-0.66),(1.00,-0.69),(1.11,-0.67),(1.23,-0.65),(1.35,-0.68),(1.47,-0.66),(1.60,-0.69),(1.73,-0.67),
(-0.59,-0.78),(-0.26,-0.76),(0.04,-0.77),(0.17,-0.75),(0.29,-0.78),(0.40,-0.76),(0.51,-0.79),(0.62,-0.77),(0.73,-0.75),(0.84,-0.78),(0.95,-0.76),(1.06,-0.79),(1.17,-0.77),(1.29,-0.75),(1.41,-0.78),(1.54,-0.76),(1.67,-0.79),
(-0.70,-0.86),(-0.39,-0.88),(-0.09,-0.87),(0.07,-0.85),(0.20,-0.88),(0.32,-0.86),(0.43,-0.89),(0.54,-0.87),(0.65,-0.85),(0.76,-0.88),(0.87,-0.86),(0.98,-0.89),(1.09,-0.87),(1.21,-0.85),(1.33,-0.88),(1.45,-0.86),(1.58,-0.89),(1.71,-0.87),
(-0.58,-0.98),(-0.25,-0.96),(0.02,-0.97),(0.15,-0.95),(0.27,-0.98),(0.38,-0.96),(0.49,-0.99),(0.60,-0.97),(0.71,-0.95),(0.82,-0.98),(0.93,-0.96),(1.04,-0.99),(1.15,-0.97),(1.27,-0.95),(1.39,-0.98),(1.52,-0.96),(1.65,-0.99),
(-0.71,-1.06),(-0.40,-1.08),(-0.10,-1.07),(0.07,-1.05),(0.20,-1.08),(0.32,-1.06),(0.43,-1.09),(0.54,-1.07),(0.65,-1.05),(0.76,-1.08),(0.87,-1.06),(0.98,-1.09),(1.09,-1.07),(1.21,-1.05),(1.33,-1.08),(1.45,-1.06),(1.58,-1.09),(1.71,-1.07),
(-0.57,-1.18),(-0.24,-1.16),(0.03,-1.17),(0.16,-1.15),(0.28,-1.18),(0.39,-1.16),(0.50,-1.19),(0.61,-1.17),(0.72,-1.15),(0.83,-1.18),(0.94,-1.16),(1.05,-1.19),(1.16,-1.17),(1.28,-1.15),(1.40,-1.18),(1.53,-1.16),(1.66,-1.19),
(-0.66,-1.26),(-0.30,-1.28),(0.07,-1.27),(0.21,-1.25),(0.33,-1.28),(0.44,-1.26),(0.56,-1.29),(0.67,-1.27),(0.78,-1.25),(0.89,-1.28),(1.00,-1.26),(1.11,-1.29),(1.22,-1.27),(1.34,-1.25),(1.47,-1.28),(1.60,-1.26),
(-0.52,-1.38),(-0.10,-1.36),(0.14,-1.37),(0.26,-1.35),(0.39,-1.38),(0.51,-1.36),(0.63,-1.39),(0.75,-1.37),(0.87,-1.35),(0.99,-1.38),(1.11,-1.36),(1.23,-1.39),(1.36,-1.37),(1.50,-1.35),(1.64,-1.38),
(-0.66,-1.46),(-0.27,-1.48),(0.08,-1.47),(0.22,-1.45),(0.35,-1.48),(0.48,-1.46),(0.61,-1.49),(0.74,-1.47),(0.87,-1.45),(1.00,-1.48),(1.13,-1.46),(1.26,-1.49),(1.40,-1.47),(1.55,-1.45),(1.70,-1.48),
(-0.47,-1.58),(-0.08,-1.56),(0.12,-1.57),(0.28,-1.55),(0.43,-1.58),(0.57,-1.56),(0.71,-1.59),(0.85,-1.57),(0.99,-1.55),(1.14,-1.58),(1.29,-1.56),(1.44,-1.59),(1.60,-1.57),
]

# loading vectors (scaled) for each feature
features = ["Weekend_Usage_Hours", "Exercise_Hours", "Family_Communication", "Screen_Time_Before_Bed",
            "Age", "Time_on_Gaming", "Parental_Control", "Time_on_Education", "Daily_Usage_Hours",
            "Anxiety_Level", "Sleep_Hours", "Addiction_Level", "Apps_Used_Daily", "Academic_Performance",
            "Depression_Level", "Phone_Checks_Per_Day", "Social_Interactions", "Time_on_Social_Media",
            "Self_Esteem"]
load_pc1 = [-0.048, -0.174, -0.036, 0.125, 0.205, 1.058, 0.038, 0.022, 2.449, 0.070, -0.807, 3.516,
            1.36, 0.053, 0.087, 1.015, -0.148, 1.266, -0.180]
load_pc2 = [2.569, 1.717, 1.518, 1.479, 1.106, 1.019, 0.862, 0.800, 0.608, 0.357, 0.211, -0.086,
            -0.150, -0.270, -0.256, -0.583, -1.325, -1.395, -1.636]

x_ticks = [-6, -4, -2, 0, 2, 4]
y_ticks = [-3, -2, -1, 0, 1, 2, 3]
x_lim = (-6.164, 4.135)   # axes limits
y_lim = (-3.600, 3.804)

title_text = "Biplot dos Perfis de Uso de Smartphone (PC1 vs PC2)"
xlabel_text = "PC1: Nível de Vício/Uso Intenso"
ylabel_text = "PC2: Uso Recreativo de Fim de Semana vs. Bem-estar"

# ---------------- figure ----------------
all_points = (left_points + midleft_upper + midleft_lower + midleft_extra + top_points + bottom_points
              + right_points + core_upper + core_lower + core_fill_upper + core_fill_lower)
pc1 = [pt[0] for pt in all_points]
pc2 = [pt[1] for pt in all_points]

FONT = "DejaVu Sans"
AX_W = 929                                    # axes box width in px
PX_PER_X = AX_W / (x_lim[1] - x_lim[0])
EXTRA_RIGHT_PX = 50                           # room so the outer label is not clipped
x_view_hi = x_lim[1] + EXTRA_RIGHT_PX / PX_PER_X

p = figure(width=1200, height=800, output_backend="svg", toolbar_location=None,
           x_range=Range1d(x_lim[0], x_view_hi), y_range=Range1d(y_lim[0], y_lim[1]),
           min_border_left=151, min_border_right=120 - EXTRA_RIGHT_PX, min_border_top=96, min_border_bottom=88)
p.background_fill_color = "white"
p.border_fill_color = "white"
p.outline_line_color = None

# title, left-aligned with an offset so it is centred over the axes box
p.title.text = title_text
p.title.text_font = FONT
p.title.text_font_size = "16.7px"
p.title.text_font_style = "normal"
p.title.text_color = "black"
p.title.align = "left"
p.title.offset = 243
p.title.standoff = 6

fmt = CustomJSTickFormatter(code="return (tick < 0 ? '\\u2212' : '') + Math.abs(tick).toString();")
for ax, ticks in ((p.xaxis[0], x_ticks), (p.yaxis[0], y_ticks)):
    ax.ticker = FixedTicker(ticks=ticks)
    ax.formatter = fmt
    ax.major_label_text_font = FONT
    ax.major_label_text_font_size = "13.9px"
    ax.major_label_text_color = "black"
    ax.axis_label_text_font = FONT
    ax.axis_label_text_font_size = "13.9px"
    ax.axis_label_text_font_style = "normal"
    ax.axis_label_text_color = "black"
    ax.major_tick_out = 5
    ax.major_tick_in = 0
    ax.minor_tick_out = 0
    ax.minor_tick_in = 0
    ax.axis_line_color = "black"
    ax.major_tick_line_color = "black"
    ax.major_label_standoff = 3
p.xaxis.axis_line_color = None
p.yaxis.axis_label = ylabel_text
p.yaxis.axis_label_standoff = 10

# x axis label as a below-title so it can be centred on the axes box
p.add_layout(Title(text=xlabel_text, align="left", offset=356, text_font=FONT,
                   text_font_size="13.9px", text_font_style="normal", text_color="black",
                   standoff=4), "below")

# vertical grid from the axis; horizontal grid drawn only across the axes box
p.xgrid.grid_line_color = "#b0b0b0"
p.xgrid.grid_line_dash = "4 2"
p.xgrid.grid_line_width = 1
p.ygrid.grid_line_color = None
p.segment(x0=[x_lim[0]] * len(y_ticks), y0=y_ticks, x1=[x_lim[1]] * len(y_ticks), y1=y_ticks,
          line_color="#b0b0b0", line_dash="4 2", line_width=1, level="underlay")

src = ColumnDataSource(dict(x=pc1, y=pc2))
p.scatter("x", "y", source=src, size=7.6, fill_color="#1f77b4", fill_alpha=0.6,
          line_color="white", line_alpha=0.6, line_width=0.6)

# zero lines
p.segment(x0=[x_lim[0]], y0=[0], x1=[x_lim[1]], y1=[0], line_color="#808080", line_width=1.2)
p.add_layout(Span(location=0, dimension="height", line_color="#808080", line_width=1.2))

# axes box (top, right, bottom); left side is the y axis line
half_px_y = 0.5 * (y_lim[1] - y_lim[0]) / 616
p.multi_line(xs=[[x_lim[0], x_lim[1], x_lim[1], x_lim[0]]],
             ys=[[y_lim[1] - half_px_y, y_lim[1] - half_px_y, y_lim[0] + half_px_y, y_lim[0] + half_px_y]],
             line_color="black", line_width=1)

# arrows: shaft to loading, head (data units) beyond, label at 1.15 * loading
head_len, head_w = 0.15, 0.10
hx, hy = [], []
for lx, ly in zip(load_pc1, load_pc2):
    n = (lx * lx + ly * ly) ** 0.5
    ux, uy = lx / n, ly / n
    nx, ny = -uy, ux
    hx.append([lx + head_len * ux, lx + 0.5 * head_w * nx, lx - 0.5 * head_w * nx])
    hy.append([ly + head_len * uy, ly + 0.5 * head_w * ny, ly - 0.5 * head_w * ny])

p.segment(x0=[0] * len(load_pc1), y0=[0] * len(load_pc1), x1=load_pc1, y1=load_pc2,
          line_color="red", line_alpha=0.8, line_width=1.4)
p.patches(xs=hx, ys=hy, fill_color="red", fill_alpha=0.8, line_color="red", line_alpha=0.8, line_width=0.5)

for name, lx, ly in zip(features, load_pc1, load_pc2):
    p.add_layout(Label(x=lx * 1.15, y=ly * 1.15, text=name, text_font=FONT, text_font_size="13.9px",
                       text_color="black", text_align="center", text_baseline="middle"))

open("out.html", "w").write(file_html(p, INLINE))
